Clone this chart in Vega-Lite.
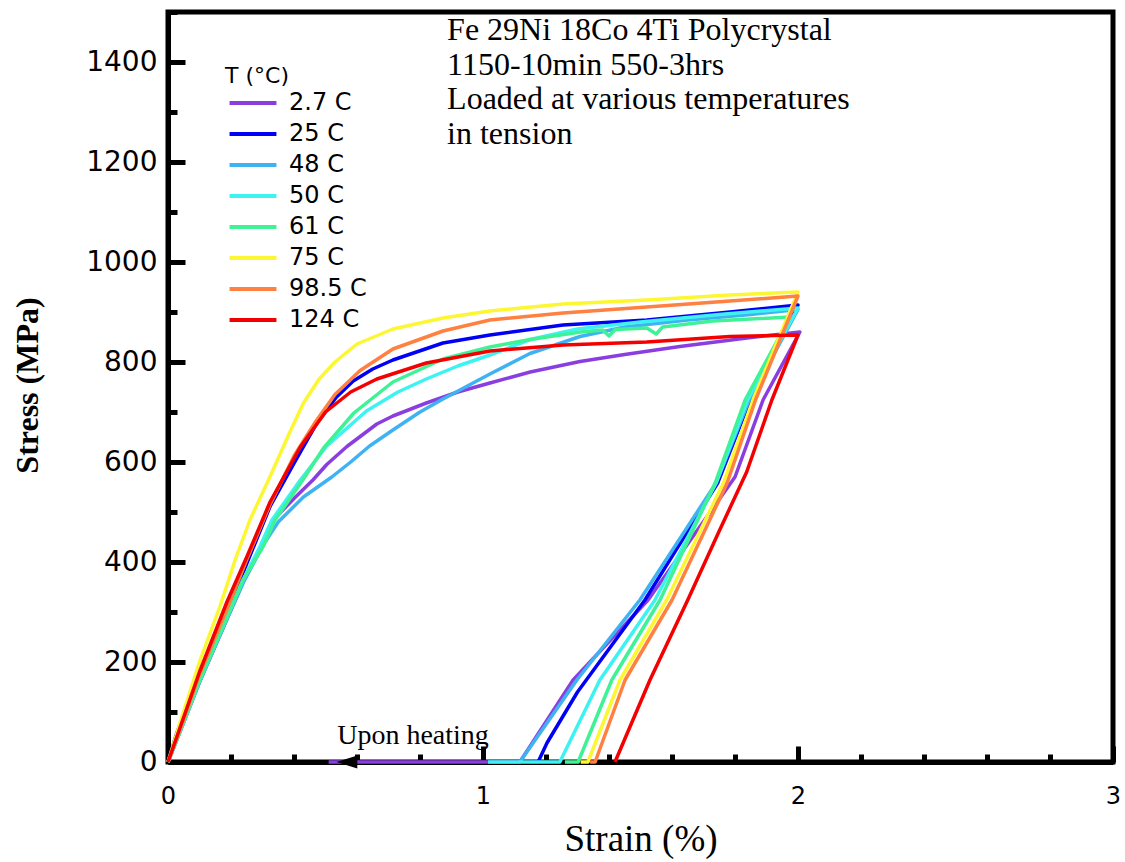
{
  "$schema": "https://vega.github.io/schema/vega-lite/v6.json",
  "width": 945,
  "height": 750,
  "autosize": "none",
  "padding": {"left": 168, "top": 12, "right": 12, "bottom": 100},
  "background": "white",
  "config": {
    "view": {"stroke": "black", "strokeWidth": 5},
    "axis": {
      "domainColor": "black", "domainWidth": 5,
      "tickColor": "black", "tickWidth": 5,
      "labelColor": "black", "labelFont": "DejaVu Sans",
      "labelOverlap": false, "labelBound": false, "labelFlush": false,
      "grid": false,
      "titleColor": "black", "titleFont": "Liberation Serif"
    }
  },
  "datasets": {
    "curves": [
      {"T":"2.7 C","i":0,"strain":0,"stress":0},{"T":"2.7 C","i":1,"strain":0.05,"stress":80},{"T":"2.7 C","i":2,"strain":0.1,"stress":160},{"T":"2.7 C","i":3,"strain":0.19,"stress":290},{"T":"2.7 C","i":4,"strain":0.24,"stress":362},{"T":"2.7 C","i":5,"strain":0.3,"stress":436},{"T":"2.7 C","i":6,"strain":0.334,"stress":484},{"T":"2.7 C","i":7,"strain":0.4,"stress":527},{"T":"2.7 C","i":8,"strain":0.46,"stress":564},{"T":"2.7 C","i":9,"strain":0.504,"stress":595},{"T":"2.7 C","i":10,"strain":0.568,"stress":631},{"T":"2.7 C","i":11,"strain":0.663,"stress":676},{"T":"2.7 C","i":12,"strain":0.714,"stress":692},{"T":"2.7 C","i":13,"strain":0.82,"stress":718},{"T":"2.7 C","i":14,"strain":0.92,"stress":740},{"T":"2.7 C","i":15,"strain":1.022,"stress":758},{"T":"2.7 C","i":16,"strain":1.15,"stress":780},{"T":"2.7 C","i":17,"strain":1.308,"stress":801},{"T":"2.7 C","i":18,"strain":1.45,"stress":815},{"T":"2.7 C","i":19,"strain":1.625,"stress":831},{"T":"2.7 C","i":20,"strain":1.838,"stress":848},{"T":"2.7 C","i":21,"strain":2.006,"stress":860},{"T":"2.7 C","i":22,"strain":1.889,"stress":724},{"T":"2.7 C","i":23,"strain":1.8,"stress":570},{"T":"2.7 C","i":24,"strain":1.524,"stress":324},{"T":"2.7 C","i":25,"strain":1.286,"stress":164},{"T":"2.7 C","i":26,"strain":1.117,"stress":0},{"T":"2.7 C","i":27,"strain":0.51,"stress":0},

      {"T":"25 C","i":0,"strain":0,"stress":0},{"T":"25 C","i":1,"strain":0.028,"stress":58},{"T":"25 C","i":2,"strain":0.091,"stress":164},{"T":"25 C","i":3,"strain":0.186,"stress":297},{"T":"25 C","i":4,"strain":0.25,"stress":397},{"T":"25 C","i":5,"strain":0.324,"stress":511},{"T":"25 C","i":6,"strain":0.398,"stress":595},{"T":"25 C","i":7,"strain":0.472,"stress":677},{"T":"25 C","i":8,"strain":0.535,"stress":730},{"T":"25 C","i":9,"strain":0.588,"stress":762},{"T":"25 C","i":10,"strain":0.65,"stress":786},{"T":"25 C","i":11,"strain":0.714,"stress":804},{"T":"25 C","i":12,"strain":0.873,"stress":838},{"T":"25 C","i":13,"strain":1.022,"stress":854},{"T":"25 C","i":14,"strain":1.254,"stress":874},{"T":"25 C","i":15,"strain":1.52,"stress":884},{"T":"25 C","i":16,"strain":1.784,"stress":900},{"T":"25 C","i":17,"strain":2.0,"stress":914},{"T":"25 C","i":18,"strain":1.848,"stress":724},{"T":"25 C","i":19,"strain":1.745,"stress":558},{"T":"25 C","i":20,"strain":1.514,"stress":324},{"T":"25 C","i":21,"strain":1.3,"stress":140},{"T":"25 C","i":22,"strain":1.203,"stress":38},{"T":"25 C","i":23,"strain":1.175,"stress":0},{"T":"25 C","i":24,"strain":1.15,"stress":0},

      {"T":"48 C","i":0,"strain":0,"stress":0},{"T":"48 C","i":1,"strain":0.05,"stress":80},{"T":"48 C","i":2,"strain":0.1,"stress":160},{"T":"48 C","i":3,"strain":0.19,"stress":290},{"T":"48 C","i":4,"strain":0.24,"stress":360},{"T":"48 C","i":5,"strain":0.3,"stress":432},{"T":"48 C","i":6,"strain":0.35,"stress":480},{"T":"48 C","i":7,"strain":0.43,"stress":530},{"T":"48 C","i":8,"strain":0.52,"stress":570},{"T":"48 C","i":9,"strain":0.58,"stress":600},{"T":"48 C","i":10,"strain":0.64,"stress":632},{"T":"48 C","i":11,"strain":0.714,"stress":664},{"T":"48 C","i":12,"strain":0.8,"stress":700},{"T":"48 C","i":13,"strain":0.873,"stress":726},{"T":"48 C","i":14,"strain":1.022,"stress":776},{"T":"48 C","i":15,"strain":1.149,"stress":817},{"T":"48 C","i":16,"strain":1.308,"stress":851},{"T":"48 C","i":17,"strain":1.45,"stress":870},{"T":"48 C","i":18,"strain":1.65,"stress":884},{"T":"48 C","i":19,"strain":1.85,"stress":895},{"T":"48 C","i":20,"strain":2.0,"stress":905},{"T":"48 C","i":21,"strain":1.845,"stress":724},{"T":"48 C","i":22,"strain":1.74,"stress":558},{"T":"48 C","i":23,"strain":1.498,"stress":324},{"T":"48 C","i":24,"strain":1.298,"stress":164},{"T":"48 C","i":25,"strain":1.117,"stress":0},

      {"T":"50 C","i":0,"strain":0,"stress":0},{"T":"50 C","i":1,"strain":0.05,"stress":82},{"T":"50 C","i":2,"strain":0.1,"stress":165},{"T":"50 C","i":3,"strain":0.19,"stress":295},{"T":"50 C","i":4,"strain":0.238,"stress":364},{"T":"50 C","i":5,"strain":0.292,"stress":431},{"T":"50 C","i":6,"strain":0.33,"stress":484},{"T":"50 C","i":7,"strain":0.42,"stress":564},{"T":"50 C","i":8,"strain":0.504,"stress":632},{"T":"50 C","i":9,"strain":0.63,"stress":702},{"T":"50 C","i":10,"strain":0.73,"stress":740},{"T":"50 C","i":11,"strain":0.82,"stress":766},{"T":"50 C","i":12,"strain":0.92,"stress":792},{"T":"50 C","i":13,"strain":1.022,"stress":814},{"T":"50 C","i":14,"strain":1.15,"stress":845},{"T":"50 C","i":15,"strain":1.3,"stress":866},{"T":"50 C","i":16,"strain":1.5,"stress":880},{"T":"50 C","i":17,"strain":1.75,"stress":895},{"T":"50 C","i":18,"strain":2.0,"stress":908},{"T":"50 C","i":19,"strain":1.84,"stress":724},{"T":"50 C","i":20,"strain":1.74,"stress":558},{"T":"50 C","i":21,"strain":1.546,"stress":324},{"T":"50 C","i":22,"strain":1.371,"stress":164},{"T":"50 C","i":23,"strain":1.244,"stress":0},{"T":"50 C","i":24,"strain":1.016,"stress":0},

      {"T":"61 C","i":0,"strain":0,"stress":0},{"T":"61 C","i":1,"strain":0.05,"stress":80},{"T":"61 C","i":2,"strain":0.1,"stress":162},{"T":"61 C","i":3,"strain":0.19,"stress":293},{"T":"61 C","i":4,"strain":0.238,"stress":364},{"T":"61 C","i":5,"strain":0.302,"stress":431},{"T":"61 C","i":6,"strain":0.34,"stress":484},{"T":"61 C","i":7,"strain":0.43,"stress":566},{"T":"61 C","i":8,"strain":0.494,"stress":628},{"T":"61 C","i":9,"strain":0.59,"stress":698},{"T":"61 C","i":10,"strain":0.714,"stress":760},{"T":"61 C","i":11,"strain":0.873,"stress":806},{"T":"61 C","i":12,"strain":1.022,"stress":830},{"T":"61 C","i":13,"strain":1.15,"stress":845},{"T":"61 C","i":14,"strain":1.31,"stress":860},{"T":"61 C","i":15,"strain":1.38,"stress":864},{"T":"61 C","i":16,"strain":1.4,"stress":852},{"T":"61 C","i":17,"strain":1.42,"stress":865},{"T":"61 C","i":18,"strain":1.52,"stress":868},{"T":"61 C","i":19,"strain":1.55,"stress":856},{"T":"61 C","i":20,"strain":1.57,"stress":870},{"T":"61 C","i":21,"strain":1.73,"stress":882},{"T":"61 C","i":22,"strain":1.85,"stress":886},{"T":"61 C","i":23,"strain":1.975,"stress":890},{"T":"61 C","i":24,"strain":1.832,"stress":724},{"T":"61 C","i":25,"strain":1.737,"stress":558},{"T":"61 C","i":26,"strain":1.562,"stress":324},{"T":"61 C","i":27,"strain":1.409,"stress":164},{"T":"61 C","i":28,"strain":1.302,"stress":0},{"T":"61 C","i":29,"strain":1.26,"stress":0},

      {"T":"75 C","i":0,"strain":0,"stress":0},{"T":"75 C","i":1,"strain":0.038,"stress":78},{"T":"75 C","i":2,"strain":0.102,"stress":204},{"T":"75 C","i":3,"strain":0.165,"stress":311},{"T":"75 C","i":4,"strain":0.213,"stress":404},{"T":"75 C","i":5,"strain":0.26,"stress":484},{"T":"75 C","i":6,"strain":0.324,"stress":571},{"T":"75 C","i":7,"strain":0.387,"stress":660},{"T":"75 C","i":8,"strain":0.43,"stress":718},{"T":"75 C","i":9,"strain":0.48,"stress":766},{"T":"75 C","i":10,"strain":0.53,"stress":800},{"T":"75 C","i":11,"strain":0.6,"stress":836},{"T":"75 C","i":12,"strain":0.714,"stress":866},{"T":"75 C","i":13,"strain":0.873,"stress":888},{"T":"75 C","i":14,"strain":1.022,"stress":902},{"T":"75 C","i":15,"strain":1.254,"stress":916},{"T":"75 C","i":16,"strain":1.52,"stress":924},{"T":"75 C","i":17,"strain":1.784,"stress":934},{"T":"75 C","i":18,"strain":2.0,"stress":940},{"T":"75 C","i":19,"strain":1.857,"stress":724},{"T":"75 C","i":20,"strain":1.763,"stress":558},{"T":"75 C","i":21,"strain":1.583,"stress":324},{"T":"75 C","i":22,"strain":1.435,"stress":164},{"T":"75 C","i":23,"strain":1.333,"stress":0},{"T":"75 C","i":24,"strain":1.31,"stress":0},

      {"T":"98.5 C","i":0,"strain":0,"stress":0},{"T":"98.5 C","i":1,"strain":0.05,"stress":85},{"T":"98.5 C","i":2,"strain":0.1,"stress":175},{"T":"98.5 C","i":3,"strain":0.19,"stress":310},{"T":"98.5 C","i":4,"strain":0.25,"stress":405},{"T":"98.5 C","i":5,"strain":0.324,"stress":515},{"T":"98.5 C","i":6,"strain":0.4,"stress":612},{"T":"98.5 C","i":7,"strain":0.47,"stress":682},{"T":"98.5 C","i":8,"strain":0.53,"stress":735},{"T":"98.5 C","i":9,"strain":0.61,"stress":783},{"T":"98.5 C","i":10,"strain":0.714,"stress":826},{"T":"98.5 C","i":11,"strain":0.873,"stress":862},{"T":"98.5 C","i":12,"strain":1.022,"stress":884},{"T":"98.5 C","i":13,"strain":1.254,"stress":898},{"T":"98.5 C","i":14,"strain":1.52,"stress":910},{"T":"98.5 C","i":15,"strain":1.784,"stress":922},{"T":"98.5 C","i":16,"strain":2.0,"stress":932},{"T":"98.5 C","i":17,"strain":1.865,"stress":724},{"T":"98.5 C","i":18,"strain":1.775,"stress":558},{"T":"98.5 C","i":19,"strain":1.6,"stress":324},{"T":"98.5 C","i":20,"strain":1.451,"stress":164},{"T":"98.5 C","i":21,"strain":1.356,"stress":0},{"T":"98.5 C","i":22,"strain":1.34,"stress":0},

      {"T":"124 C","i":0,"strain":0,"stress":0},{"T":"124 C","i":1,"strain":0.05,"stress":90},{"T":"124 C","i":2,"strain":0.1,"stress":180},{"T":"124 C","i":3,"strain":0.187,"stress":320},{"T":"124 C","i":4,"strain":0.25,"stress":410},{"T":"124 C","i":5,"strain":0.324,"stress":520},{"T":"124 C","i":6,"strain":0.42,"stress":630},{"T":"124 C","i":7,"strain":0.5,"stress":700},{"T":"124 C","i":8,"strain":0.58,"stress":740},{"T":"124 C","i":9,"strain":0.663,"stress":766},{"T":"124 C","i":10,"strain":0.82,"stress":798},{"T":"124 C","i":11,"strain":1.022,"stress":822},{"T":"124 C","i":12,"strain":1.254,"stress":834},{"T":"124 C","i":13,"strain":1.52,"stress":840},{"T":"124 C","i":14,"strain":1.784,"stress":851},{"T":"124 C","i":15,"strain":2.0,"stress":854},{"T":"124 C","i":16,"strain":1.917,"stress":724},{"T":"124 C","i":17,"strain":1.837,"stress":580},{"T":"124 C","i":18,"strain":1.747,"stress":458},{"T":"124 C","i":19,"strain":1.65,"stress":324},{"T":"124 C","i":20,"strain":1.53,"stress":164},{"T":"124 C","i":21,"strain":1.419,"stress":0}
    ],
    "arrow": [{"strain": 0.568, "stress": 0}],
    "heading": [{"strain": 0.886, "stress": 1444, "label": "Fe 29Ni 18Co 4Ti Polycrystal\n1150-10min 550-3hrs\nLoaded at various temperatures\nin tension"}],
    "note": [{"strain": 0.537, "stress": 36, "label": "Upon heating"}]
  },
  "layer": [
    {
      "data": {"name": "curves"},
      "mark": {"type": "line", "strokeWidth": 3.5, "strokeJoin": "round"},
      "encoding": {
        "x": {
          "field": "strain", "type": "quantitative",
          "scale": {"domain": [0, 3], "nice": false, "zero": false},
          "axis": {
            "title": "Strain (%)",
            "values": [0,0.1,0.2,0.3,0.4,0.5,0.6,0.7,0.8,0.9,1,1.1,1.2,1.3,1.4,1.5,1.6,1.7,1.8,1.9,2,2.1,2.2,2.3,2.4,2.5,2.6,2.7,2.8,2.9,3],
            "labelExpr": "abs(datum.value - round(datum.value)) < 0.001 ? '' + round(datum.value) : ''",
            "tickSize": {"condition": [
              {"test": "abs(datum.value - round(datum.value)) < 0.001", "value": -16},
              {"test": "abs(datum.value * 2 - round(datum.value * 2)) < 0.001", "value": -12}
            ], "value": -8},
            "labelPadding": 38,
            "labelBaseline": "top",
            "labelFontSize": 24,
            "titleFontSize": 37,
            "titleFontWeight": "normal",
            "titleBaseline": "alphabetic",
            "titleY": 88
          }
        },
        "y": {
          "field": "stress", "type": "quantitative",
          "scale": {"domain": [0, 1500], "nice": false},
          "axis": {
            "title": "Stress (MPa)",
            "values": [0,50,100,150,200,250,300,350,400,450,500,550,600,650,700,750,800,850,900,950,1000,1050,1100,1150,1200,1250,1300,1350,1400,1450,1500],
            "labelExpr": "datum.value % 200 === 0 ? '' + datum.value : ''",
            "tickSize": {"condition": {"test": "datum.value % 200 === 0", "value": -17}, "value": -9},
            "labelPadding": 28,
            "labelFontSize": 28,
            "titleFontSize": 32,
            "titleFontWeight": "bold",
            "titleBaseline": "alphabetic",
            "titleAlign": "center",
            "titleX": -131,
            "titleY": 373
          }
        },
        "color": {
          "field": "T", "type": "nominal",
          "scale": {
            "domain": ["2.7 C","25 C","48 C","50 C","61 C","75 C","98.5 C","124 C"],
            "range": ["#8a3ee0","#0000f5","#3fb3f2","#3ff2f2","#3ff296","#fcf732","#ff8040","#f50000"]
          },
          "legend": {
            "title": "T (°C)",
            "orient": "none",
            "legendX": 57,
            "legendY": 54,
            "padding": 0,
            "titleFont": "DejaVu Sans", "titleFontSize": 22, "titleFontWeight": "normal", "titleColor": "black",
            "titlePadding": 1,
            "labelFont": "DejaVu Sans", "labelFontSize": 24, "labelColor": "black",
            "symbolType": "M-2,0H2",
            "symbolSize": 550,
            "symbolStrokeWidth": 4,
            "symbolOffset": 14,
            "labelOffset": 22,
            "rowPadding": 5
          }
        },
        "order": {"field": "i", "type": "quantitative"}
      }
    },
    {
      "data": {"name": "arrow"},
      "mark": {"type": "point", "shape": "M-1.6,0L1.6,-1L1.6,1Z", "size": 169, "filled": true, "color": "black", "opacity": 1},
      "encoding": {
        "x": {"field": "strain", "type": "quantitative"},
        "y": {"field": "stress", "type": "quantitative"}
      }
    },
    {
      "data": {"name": "heading"},
      "mark": {"type": "text", "font": "Liberation Serif", "fontSize": 32, "align": "left", "baseline": "alphabetic", "lineBreak": "\n", "lineHeight": 34.5, "color": "black"},
      "encoding": {
        "x": {"field": "strain", "type": "quantitative"},
        "y": {"field": "stress", "type": "quantitative"},
        "text": {"field": "label"}
      }
    },
    {
      "data": {"name": "note"},
      "mark": {"type": "text", "font": "Liberation Serif", "fontSize": 28, "align": "left", "baseline": "alphabetic", "color": "black"},
      "encoding": {
        "x": {"field": "strain", "type": "quantitative"},
        "y": {"field": "stress", "type": "quantitative"},
        "text": {"field": "label"}
      }
    }
  ]
}
